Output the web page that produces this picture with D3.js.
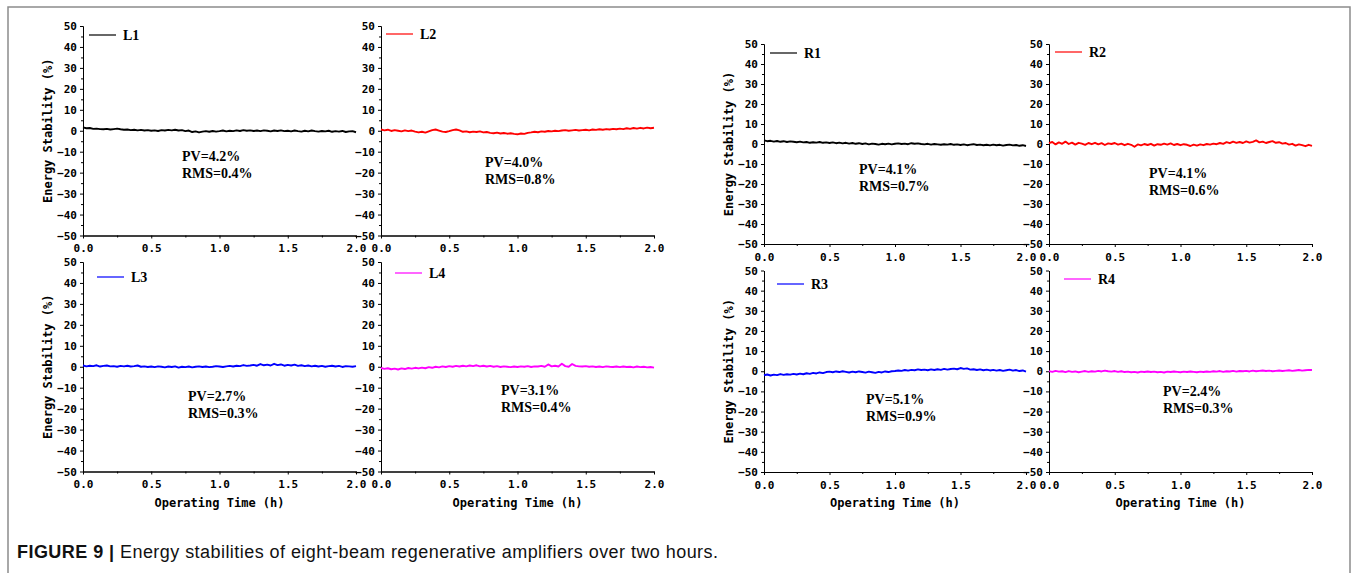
<!DOCTYPE html>
<html>
<head>
<meta charset="utf-8">
<title>Energy stabilities of eight-beam regenerative amplifiers</title>
<script src="https://d3js.org/d3.v7.min.js"></script>
<style>
  body { margin: 0; background: #fff; }
  svg { display: block; }
  .axis text { font-family: "DejaVu Sans Mono", monospace; font-weight: bold; font-size: 11px; fill: #000; }
  .axis path, .axis line { stroke: #000; }
  .lbl { font-family: "DejaVu Sans Mono", monospace; font-weight: bold; fill: #000; }
  .note { font-family: "Liberation Serif", serif; font-weight: bold; fill: #000; }
</style>
</head>
<body>
<svg width="1354" height="573"></svg>
<script>
// sample times (h)
var hours = [0, 0.025, 0.05, 0.075, 0.1, 0.125, 0.15, 0.175, 0.2, 0.225,
  0.25, 0.275, 0.3, 0.325, 0.35, 0.375, 0.4, 0.425, 0.45, 0.475,
  0.5, 0.525, 0.55, 0.575, 0.6, 0.625, 0.65, 0.675, 0.7, 0.725,
  0.75, 0.775, 0.8, 0.825, 0.85, 0.875, 0.9, 0.925, 0.95, 0.975,
  1, 1.025, 1.05, 1.075, 1.1, 1.125, 1.15, 1.175, 1.2, 1.225,
  1.25, 1.275, 1.3, 1.325, 1.35, 1.375, 1.4, 1.425, 1.45, 1.475,
  1.5, 1.525, 1.55, 1.575, 1.6, 1.625, 1.65, 1.675, 1.7, 1.725,
  1.75, 1.775, 1.8, 1.825, 1.85, 1.875, 1.9, 1.925, 1.95, 1.975,
  2];

// energy stability (%) per beam
var l1 = [1.6, 1.2, 1.3, 0.9, 1.0, 0.8, 0.7, 0.9, 0.6, 0.8,
  1.0, 0.7, 0.5, 0.6, 0.3, 0.5, 0.2, 0.4, 0.1, 0.3,
  0.0, 0.2, -0.1, 0.3, 0.1, 0.4, 0.2, 0.5, 0.1, 0.3,
  -0.2, 0.1, -0.6, -0.3, -0.8, -0.4, -0.2, -0.5, -0.1, -0.4,
  -0.2, 0.1, -0.3, 0.0, -0.2, 0.2, -0.1, 0.3, 0.0, 0.2,
  -0.1, 0.1, -0.2, 0.2, 0.0, -0.3, 0.1, -0.1, 0.2, -0.2,
  0.0, -0.3, 0.1, -0.2, -0.4, 0.0, -0.3, 0.1, -0.2, -0.4,
  -0.1, -0.3, 0.0, -0.5, -0.2, -0.4, -0.1, -0.6, -0.3, -0.2,
  -0.7];
var l2 = [0.6, 0.2, 0.5, -0.1, 0.3, 0.0, -0.3, 0.2, -0.2, 0.1,
  -0.4, -0.8, -0.5, -0.9, -0.3, 0.3, 0.6, 0.1, -0.4, -0.6,
  -0.2, 0.3, 0.6, 0.2, -0.5, -0.3, -0.7, -0.4, -0.6, -0.3,
  -0.8, -0.6, -1.0, -1.2, -0.9, -1.3, -1.1, -1.4, -1.2, -1.5,
  -1.7, -1.3, -1.5, -1.0, -0.8, -0.5, -0.7, -0.3, -0.5, -0.1,
  -0.3, 0.0, -0.2, 0.1, 0.3, 0.0, 0.2, 0.4, 0.1, 0.3,
  0.5, 0.2, 0.6, 0.4, 0.7, 0.5, 0.8, 0.6, 0.9, 0.7,
  1.0, 0.8, 1.2, 0.9, 1.3, 1.0, 1.4, 1.1, 1.5, 1.2,
  1.4];
var l3 = [0.6, 0.2, 0.5, 0.3, 0.7, 0.1, 0.4, 0.6, 0.2, 0.3,
  0.0, 0.4, 0.2, 0.5, 0.1, 0.3, 0.6, 0.0, 0.2, -0.1,
  0.1, -0.2, 0.2, 0.0, -0.3, 0.1, -0.1, 0.2, -0.4, 0.0,
  -0.2, 0.1, -0.3, 0.0, 0.2, -0.1, 0.1, -0.2, 0.0, 0.3,
  0.1, -0.1, 0.2, 0.4, 0.1, 0.5, 0.3, 0.8, 0.4, 0.6,
  0.9, 0.5, 1.3, 0.7, 1.0, 0.6, 1.4, 0.8, 1.1, 0.5,
  0.9, 0.6, 1.0, 0.4, 0.7, 0.3, 0.6, 0.2, 0.5, 0.1,
  0.4, 0.0, 0.3, 0.5, 0.1, 0.4, -0.1, 0.3, 0.2, 0.0,
  0.3];
var l4 = [-0.6, -1.0, -0.7, -1.2, -0.9, -1.3, -0.8, -1.1, -0.6, -0.9,
  -0.5, -0.8, -0.4, -0.7, -0.2, -0.5, 0.0, -0.3, 0.2, -0.1,
  0.3, 0.0, 0.4, 0.1, 0.5, 0.2, 0.6, 0.3, 0.7, 0.2,
  0.5, 0.1, 0.4, 0.0, 0.3, -0.1, 0.2, 0.0, -0.2, 0.1,
  -0.1, 0.2, 0.0, 0.3, -0.1, 0.2, 0.1, 0.4, 0.0, 1.1,
  0.2, 0.5, 0.1, 1.4, 0.3, 0.0, 1.3, 0.4, 0.2, 0.1,
  0.3, 0.0, 0.2, -0.1, 0.1, -0.2, 0.2, 0.0, -0.1, 0.1,
  -0.2, 0.1, -0.1, 0.0, -0.3, 0.1, -0.2, 0.0, -0.3, -0.1,
  -0.4];
var r1 = [1.8, 1.4, 1.6, 1.2, 1.5, 1.1, 1.4, 1.0, 1.3, 1.1,
  0.9, 1.2, 0.8, 1.0, 0.6, 0.9, 0.7, 1.0, 0.6, 0.8,
  0.5, 0.8, 0.4, 0.7, 0.3, 0.6, 0.2, 0.5, 0.1, 0.4,
  0.0, 0.3, -0.2, 0.2, 0.0, -0.3, 0.1, -0.1, 0.2, -0.2,
  0.1, 0.3, 0.0, 0.2, -0.1, 0.4, 0.1, 0.3, 0.0, -0.2,
  0.1, -0.3, 0.0, -0.2, -0.4, -0.1, -0.3, 0.0, -0.4, -0.2,
  -0.5, -0.2, -0.6, -0.3, -0.1, -0.5, -0.3, -0.6, -0.4, -0.7,
  -0.3, -0.6, -0.4, -0.8, -0.5, -0.3, -0.7, -0.5, -0.9, -0.6,
  -1.0];
var r2 = [0.4, 1.0, -0.2, 0.8, 0.1, 1.2, 0.0, 0.7, -0.3, 0.6,
  0.2, -0.4, 0.5, -0.1, 0.6, -0.2, 0.4, -0.5, 0.3, 0.0,
  0.5, -0.3, 0.2, -0.6, 0.1, -0.4, -1.4, -0.2, -0.7, 0.0,
  -0.5, 0.1, -0.8, -0.1, -0.4, 0.2, -0.3, 0.3, -0.5, 0.0,
  -0.6, -0.1, -0.4, -1.0, -0.3, -0.8, -0.2, -0.6, 0.0, -0.3,
  0.2, -0.1, 0.5, 0.1, 0.9, 0.4, 1.2, 0.6, 1.0, 0.5,
  1.3, 0.7, 1.1, 1.8, 0.8, 1.2, 0.5, 1.0, 1.4, 0.6,
  0.9, 0.2, 0.5, -0.3, 0.1, -0.8, -0.2, -0.6, -1.1, -0.4,
  -0.9];
var r3 = [-2.0, -1.6, -2.1, -1.7, -1.9, -1.4, -1.8, -1.5, -1.7, -1.3,
  -1.6, -1.2, -1.5, -1.0, -1.3, -0.8, -1.1, -0.6, -0.9, -0.4,
  -0.2, -0.5, -0.1, -0.4, 0.0, -0.3, -0.6, -0.2, -0.5, -0.1,
  -0.4, -0.7, -0.2, -0.5, -0.8, -0.3, -0.6, -0.1, -0.4, 0.0,
  0.1, 0.4, 0.2, 0.6, 0.3, 0.7, 0.5, 0.9, 0.6, 0.8,
  0.5, 0.9, 0.6, 1.0, 0.7, 1.2, 0.8, 1.1, 1.3, 1.0,
  1.6, 1.2, 1.4, 0.8, 1.0, 0.6, 0.9, 0.5, 0.8, 0.4,
  0.7, 0.3, 0.6, 0.2, 0.5, 0.8, 0.3, 0.6, 0.1, 0.4,
  -0.2];
var r4 = [0.1, -0.3, 0.2, -0.2, 0.0, -0.4, 0.1, -0.3, -0.1, -0.5,
  -0.2, 0.1, -0.3, 0.0, -0.2, 0.2, -0.1, 0.3, 0.0, -0.2,
  0.1, -0.3, 0.0, -0.4, -0.2, -0.5, -0.3, -0.6, -0.2, -0.4,
  -0.1, -0.4, -0.2, -0.5, -0.3, -0.6, -0.2, -0.4, -0.1, -0.3,
  -0.5, -0.2, -0.4, -0.1, -0.3, -0.5, -0.2, -0.4, -0.1, -0.3,
  0.0, -0.2, 0.1, -0.3, 0.0, -0.1, 0.2, -0.2, 0.1, 0.0,
  0.2, -0.1, 0.3, 0.0, 0.2, 0.4, 0.1, 0.3, 0.0, 0.2,
  0.4, 0.1, 0.3, 0.5, 0.2, 0.4, 0.6, 0.3, 0.5, 0.7,
  0.6];

var yTicks = [-50, -40, -30, -20, -10, 0, 10, 20, 30, 40, 50];
var yMinor = [-45, -35, -25, -15, -5, 5, 15, 25, 35, 45];
var xTicks = [0, 0.5, 1, 1.5, 2];
var xMinor = [0.25, 0.75, 1.25, 1.75];

var panels = [
  { name: "L1", values: l1, color: "#000000", pv: "PV=4.2%", rms: "RMS=0.4%",
    left: 83, right: 356, top: 26, bottom: 235.5, legX: 89, legY: 35, pvX: 182, pvY: 156, yTitle: true, xTitle: false },
  { name: "L2", values: l2, color: "#ff0000", pv: "PV=4.0%", rms: "RMS=0.8%",
    left: 381, right: 654, top: 26, bottom: 235.5, legX: 386, legY: 34, pvX: 485, pvY: 162, yTitle: false, xTitle: false },
  { name: "L3", values: l3, color: "#0000ff", pv: "PV=2.7%", rms: "RMS=0.3%",
    left: 83, right: 356, top: 262, bottom: 471.5, legX: 97, legY: 277, pvX: 188, pvY: 396, yTitle: true, xTitle: true },
  { name: "L4", values: l4, color: "#ff00ff", pv: "PV=3.1%", rms: "RMS=0.4%",
    left: 381, right: 654, top: 262, bottom: 471.5, legX: 395, legY: 273, pvX: 501, pvY: 390, yTitle: false, xTitle: true },
  { name: "R1", values: r1, color: "#000000", pv: "PV=4.1%", rms: "RMS=0.7%",
    left: 764, right: 1026, top: 44, bottom: 244, legX: 770, legY: 53, pvX: 859, pvY: 169, yTitle: true, xTitle: false },
  { name: "R2", values: r2, color: "#ff0000", pv: "PV=4.1%", rms: "RMS=0.6%",
    left: 1049, right: 1312, top: 44, bottom: 244, legX: 1055, legY: 52, pvX: 1149, pvY: 173, yTitle: false, xTitle: false },
  { name: "R3", values: r3, color: "#0000ff", pv: "PV=5.1%", rms: "RMS=0.9%",
    left: 764, right: 1026, top: 270.5, bottom: 472, legX: 777, legY: 284, pvX: 866, pvY: 399, yTitle: true, xTitle: true },
  { name: "R4", values: r4, color: "#ff00ff", pv: "PV=2.4%", rms: "RMS=0.3%",
    left: 1049, right: 1312, top: 270.5, bottom: 472, legX: 1064, legY: 279, pvX: 1163, pvY: 391, yTitle: false, xTitle: true }
];

var svg = d3.select("svg");

// gray frame, open at the bottom
svg.append("path")
  .attr("d", "M8,573V7H1350V573")
  .attr("fill", "none")
  .attr("stroke", "#8c8c8c")
  .attr("stroke-width", 1.5);

panels.forEach(function (p) {
  var x = d3.scaleLinear().domain([0, 2]).range([p.left, p.right]);
  var y = d3.scaleLinear().domain([-50, 50]).range([p.bottom, p.top]);
  var g = svg.append("g");

  // minor ticks first, no labels
  g.append("g").attr("class", "axis")
    .attr("transform", "translate(0," + p.bottom + ")")
    .call(d3.axisBottom(x).tickValues(xMinor).tickSize(2).tickSizeOuter(0).tickFormat(""));
  g.append("g").attr("class", "axis")
    .attr("transform", "translate(" + p.left + ",0)")
    .call(d3.axisLeft(y).tickValues(yMinor).tickSize(2).tickSizeOuter(0).tickFormat(""));

  g.append("g").attr("class", "axis")
    .attr("transform", "translate(0," + p.bottom + ")")
    .call(d3.axisBottom(x).tickValues(xTicks).tickSize(3).tickSizeOuter(0).tickPadding(6).tickFormat(d3.format(".1f")));
  g.append("g").attr("class", "axis")
    .attr("transform", "translate(" + p.left + ",0)")
    .call(d3.axisLeft(y).tickValues(yTicks).tickSize(3).tickSizeOuter(0).tickPadding(3));

  var line = d3.line()
    .x(function (d, i) { return x(hours[i]); })
    .y(function (d) { return y(d); });

  g.append("path")
    .datum(p.values)
    .attr("fill", "none")
    .attr("stroke", p.color)
    .attr("stroke-width", 1.9)
    .attr("stroke-linejoin", "round")
    .attr("d", line);

  // legend
  g.append("line")
    .attr("x1", p.legX).attr("x2", p.legX + 27)
    .attr("y1", p.legY).attr("y2", p.legY)
    .attr("stroke", p.color).attr("stroke-width", 1.2);
  g.append("text").attr("class", "note")
    .attr("x", p.legX + 34).attr("y", p.legY + 5)
    .style("font-size", "14px")
    .text(p.name);

  // PV / RMS note
  g.append("text").attr("class", "note")
    .attr("x", p.pvX).attr("y", p.pvY + 5)
    .style("font-size", "14px")
    .text(p.pv);
  g.append("text").attr("class", "note")
    .attr("x", p.pvX).attr("y", p.pvY + 21.5)
    .style("font-size", "14px")
    .text(p.rms);

  if (p.yTitle) {
    var cy = (p.top + p.bottom) / 2;
    g.append("text").attr("class", "lbl")
      .attr("transform", "translate(" + (p.left - 35) + "," + cy + ") rotate(-90)")
      .attr("text-anchor", "middle")
      .attr("dy", "0.35em")
      .style("font-size", "12px")
      .text("Energy Stability (%)");
  }
  if (p.xTitle) {
    g.append("text").attr("class", "lbl")
      .attr("x", (p.left + p.right) / 2)
      .attr("y", p.bottom + 35)
      .attr("text-anchor", "middle")
      .style("font-size", "12px")
      .text("Operating Time (h)");
  }
});

// caption
var cap = svg.append("text")
  .attr("x", 17).attr("y", 558)
  .attr("textLength", 701)
  .attr("lengthAdjust", "spacing")
  .style("font-family", "'Liberation Sans', Arial, sans-serif")
  .style("font-size", "18px")
  .attr("fill", "#111");
cap.append("tspan").style("font-weight", "bold").text("FIGURE 9 | ");
cap.append("tspan").text("Energy stabilities of eight-beam regenerative amplifiers over two hours.");
</script>
</body>
</html>
